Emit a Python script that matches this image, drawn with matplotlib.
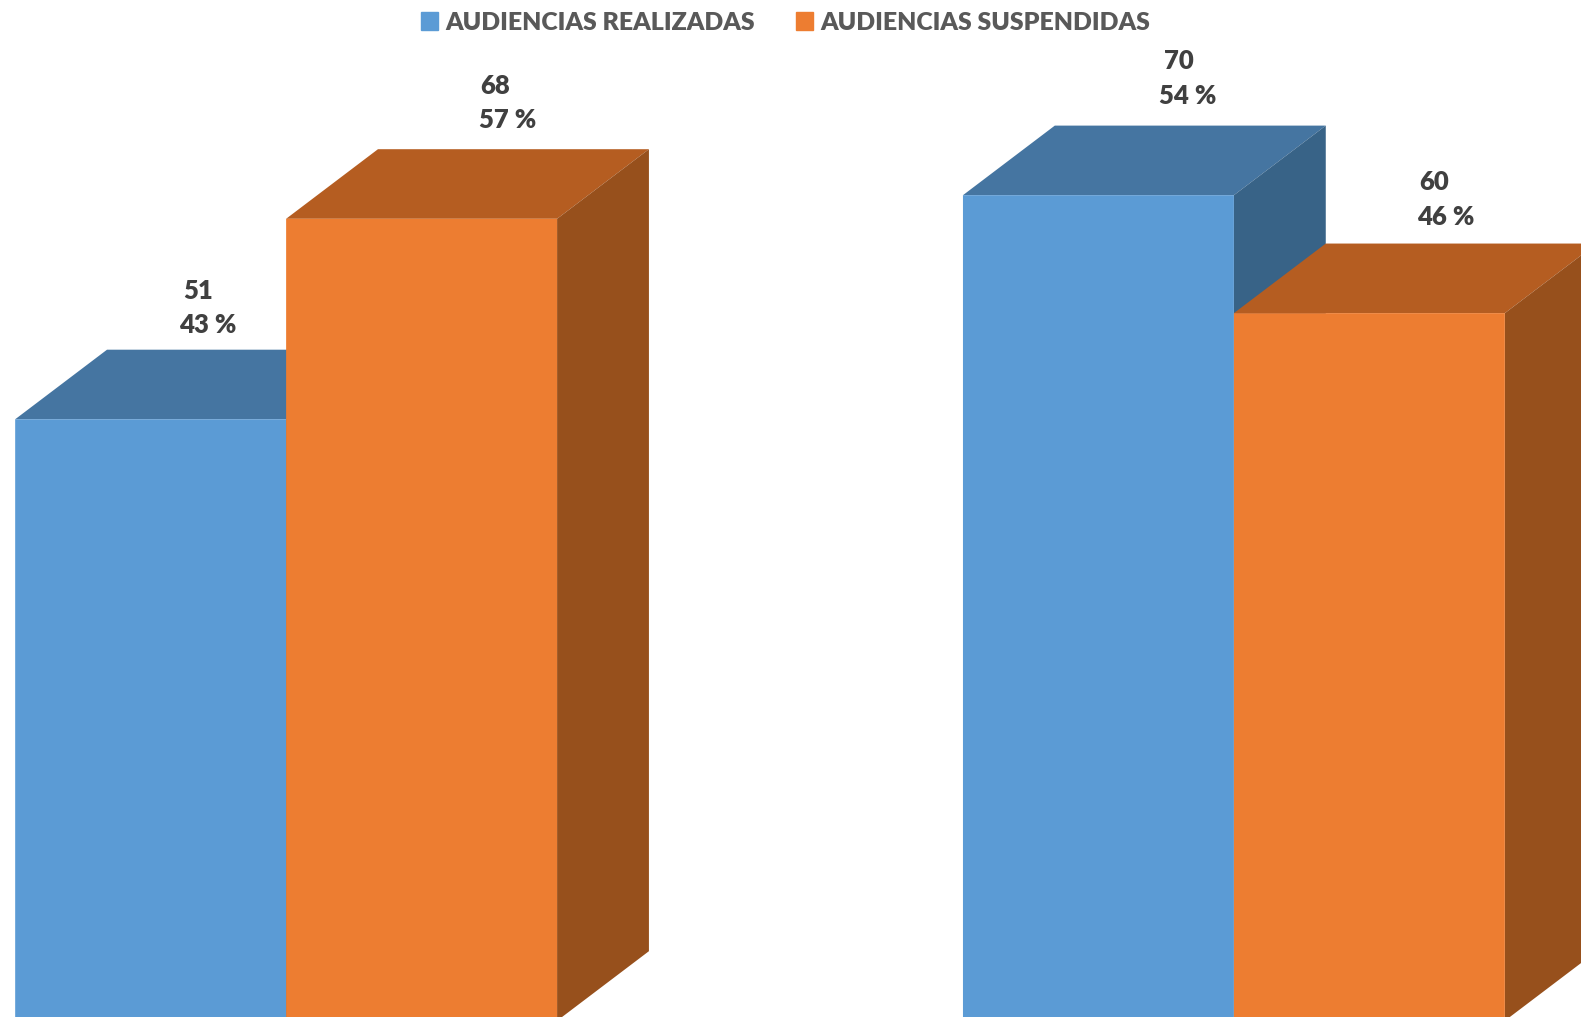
import numpy as np
import matplotlib
matplotlib.use("Agg")
import matplotlib.pyplot as plt
from matplotlib.patches import Polygon, Patch

plt.rcParams['font.family'] = ['Lato', 'DejaVu Sans']

series = ['AUDIENCIAS REALIZADAS', 'AUDIENCIAS SUSPENDIDAS']
realizadas = [51, 70]
suspendidas = [68, 60]
realizadas_pct = ['43 %', '54 %']
suspendidas_pct = ['57 %', '46 %']

W, H = 1581, 1017
group_x = np.array([0.0, 3.498])
depth_x = 0.339
depth_y = 5.9

colors = {
    'blue': ('#5B9BD5', '#4575A1', '#386387'),
    'orange': ('#ED7D31', '#B55D21', '#97501C'),
}


def bar3d(ax, x, val, cols, z):
    front, top, side = cols
    bars = ax.bar(x, val, width=1, align='edge', color=front, linewidth=0, zorder=z + 0.2)
    bars[0].set_snap(False)
    ax.add_patch(Polygon([(x, val), (x + depth_x, val + depth_y), (x + 1 + depth_x, val + depth_y), (x + 1, val)],
                         facecolor=top, linewidth=0, zorder=z))
    ax.add_patch(Polygon([(x + 1, 0), (x + 1 + depth_x, depth_y), (x + 1 + depth_x, val + depth_y), (x + 1, val)],
                         facecolor=side, linewidth=0, zorder=z + 0.1))


def label(ax, x, val, txt, dx, dy):
    # dx, dy in pixels from the front top left corner of the bar
    ax.annotate(txt, (x, val), xytext=(dx, dy), textcoords='offset pixels', ha='center', va='center',
                fontsize=18.5, fontweight='heavy', color='#404040', zorder=5)


fig = plt.figure(figsize=(W / 100, H / 100), dpi=100)
ax = fig.add_axes([0, 0, 1, 1])
# bars are cut off slightly by the bottom edge, as in the original
ax.set_xlim(-0.056, 5.779)
ax.set_ylim(0.32, 86.55)
ax.axis('off')

for i, gx in enumerate(group_x):
    bar3d(ax, gx, realizadas[i], colors['blue'], 1)
    bar3d(ax, gx + 1, suspendidas[i], colors['orange'], 2)

num_dx = [(183, 209), (216, 200)]
pct_dx = [(193, 222), (225, 212)]
num_dy = [(128, 133), (134, 131)]
pct_dy = [(94, 99), (99, 96)]
for i, gx in enumerate(group_x):
    label(ax, gx, realizadas[i], str(realizadas[i]), num_dx[i][0], num_dy[i][0])
    label(ax, gx, realizadas[i], realizadas_pct[i], pct_dx[i][0], pct_dy[i][0])
    label(ax, gx + 1, suspendidas[i], str(suspendidas[i]), num_dx[i][1], num_dy[i][1])
    label(ax, gx + 1, suspendidas[i], suspendidas_pct[i], pct_dx[i][1], pct_dy[i][1])

handles = [Patch(color=colors['blue'][0]), Patch(color=colors['orange'][0])]
fig.legend(handles, series, loc='upper center', bbox_to_anchor=(0.497, 1.0105), ncol=2, frameon=False,
           prop={'size': 17.95, 'weight': 'heavy'}, labelcolor='#595959', handlelength=0.68, handleheight=0.68,
           handletextpad=0.28, columnspacing=1.67)

fig.savefig('out.png', dpi=100)
